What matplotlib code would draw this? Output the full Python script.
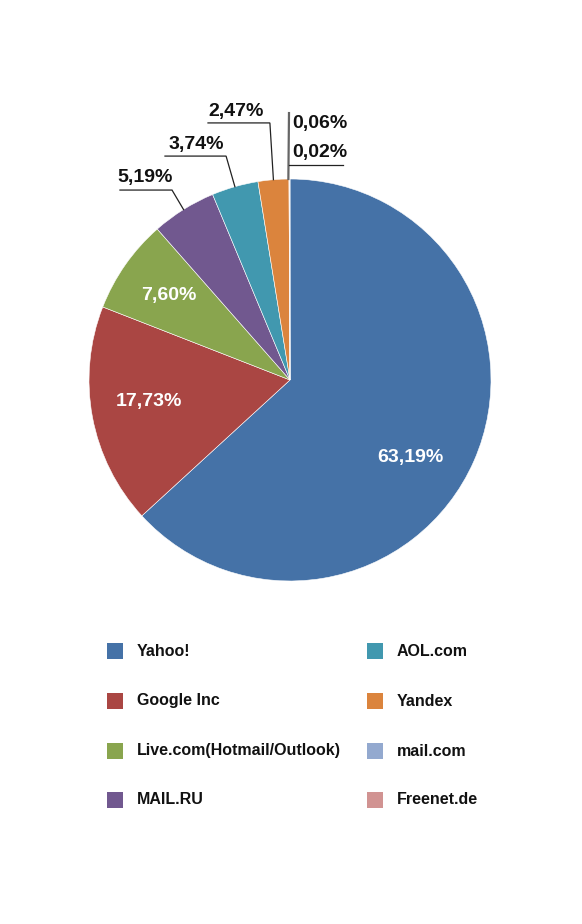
import matplotlib
matplotlib.use('Agg')
import matplotlib.pyplot as plt
from matplotlib.patches import Rectangle
import numpy as np

plt.rcParams['font.family'] = ['Liberation Sans', 'DejaVu Sans']
plt.rcParams['font.weight'] = 'bold'

# Data
providers = ['Yahoo!', 'Google Inc', 'Live.com(Hotmail/Outlook)', 'MAIL.RU',
             'AOL.com', 'Yandex', 'mail.com', 'Freenet.de']
shares = [63.19, 17.73, 7.60, 5.19, 3.74, 2.47, 0.06, 0.02]
colors = ['#4572A7', '#AA4643', '#89A54E', '#71588F',
          '#4198AF', '#DB843D', '#93A9CF', '#D19392']

W, H = 582, 924
fig = plt.figure(figsize=(W / 100, H / 100), dpi=100)

# pie axes: centre (290, 380) px, radius 201 px
cx, cy, r = 290, 380, 201
ax = fig.add_axes([(cx - r) / W, (H - cy - r) / H, 2 * r / W, 2 * r / H])
wedges, _ = ax.pie(shares, colors=colors, startangle=90, counterclock=False,
                   radius=1, wedgeprops=dict(linewidth=0.4, edgecolor='white'))
ax.set_xlim(-1, 1)
ax.set_ylim(-1, 1)
ax.set_aspect('equal')
ax.axis('off')

def fmt(v):
    return f'{v:.2f}%'.replace('.', ',')

def mid_angle(w):
    return np.deg2rad((w.theta1 + w.theta2) / 2)

# inside labels (white)
inner_pos = {0: (0.597, -0.388), 1: (-0.701, -0.109), 2: (-0.602, 0.418)}
for i, (x, y) in inner_pos.items():
    ax.text(x, y, fmt(shares[i]), color='white', fontsize=14, fontweight='bold',
            ha='center', va='center')

# outside labels with leader lines
outer = {3: ((-0.721, 1.005), (-0.846, 0.945), (-0.587, 0.945)),
         4: ((-0.468, 1.174), (-0.622, 1.114), (-0.318, 1.114)),
         5: ((-0.269, 1.338), (-0.408, 1.279), (-0.100, 1.279))}
for i, (tpos, p0, p1) in outer.items():
    a = mid_angle(wedges[i])
    ex, ey = np.cos(a) * 1.0, np.sin(a) * 1.0
    ax.plot([p0[0], p1[0], ex], [p0[1], p1[1], ey], color='#222222', lw=0.9,
            clip_on=False, solid_joinstyle='miter')
    ax.text(tpos[0], tpos[1], fmt(shares[i]), color='#111111', fontsize=14,
            fontweight='bold', ha='center', va='center', clip_on=False)

# tiny slices near the top
a = mid_angle(wedges[6])
ax.plot([np.cos(a) - 0.005, -0.005], [1.0, 1.328], color='#666666', lw=1.6, clip_on=False)
ax.plot([-0.005, 0.264], [1.070, 1.070], color='#222222', lw=0.9, clip_on=False)
ax.text(0.149, 1.274, fmt(shares[6]), color='#111111', fontsize=14,
        fontweight='bold', ha='center', va='center', clip_on=False)
ax.text(0.149, 1.134, fmt(shares[7]), color='#111111', fontsize=14,
        fontweight='bold', ha='center', va='center', clip_on=False)

# legend, two columns of four
col_sq_x = [107, 367]
col_tx_x = [137, 397]
row_y = [651, 701, 751, 800]
sq = 16
for k, (name, c) in enumerate(zip(providers, colors)):
    col, row = divmod(k, 4)
    x0 = col_sq_x[col]
    y0 = row_y[row]
    fig.add_artist(Rectangle((x0 / W, (H - y0 - sq / 2) / H), sq / W, sq / H,
                             facecolor=c, edgecolor='none', transform=fig.transFigure))
    fig.text(col_tx_x[col] / W, (H - y0) / H, name, fontsize=11.5, fontweight='bold',
             color='#111111', ha='left', va='center')

fig.savefig('out.png', dpi=100, facecolor='white')
